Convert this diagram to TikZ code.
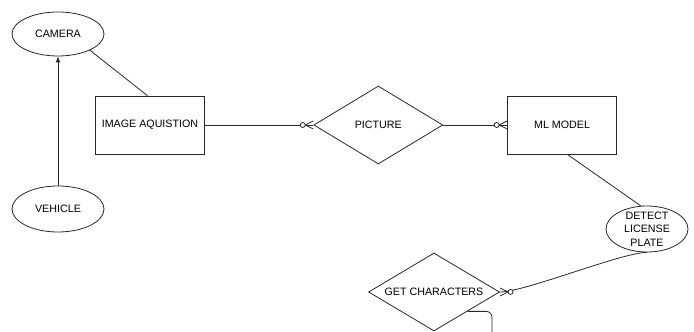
\documentclass[tikz,border=0pt]{standalone}
\usepackage{fontspec}
\setmainfont{Liberation Sans}
\usepackage{xcolor}
\usetikzlibrary{shapes,arrows.meta,positioning,decorations.markings,calc}
\definecolor{linegray}{RGB}{40,40,40}

\begin{document}
\begin{tikzpicture}[x=1pt, y=1pt, line width=0.8pt, font=\fontsize{10.7}{13.3}\selectfont,
		entita/.style={rectangle, draw=linegray, minimum width=109pt, minimum height=58pt},
		attributo/.style={ellipse, draw=linegray, inner sep=1pt},
		relazione/.style={diamond, draw=linegray, aspect=1.65, inner sep=1pt},
		zeromolti/.style={postaction={decorate}, decoration={markings, mark=at position 0.999 with {
				\draw[linegray, fill=white] (-10.5,0) circle (2.5);
				\draw[linegray] (-8,0) -- (0,4) (-8,0) -- (0,-4);}}}]
				\useasboundingbox (0,0) rectangle (694,332);
				
				% Acquisizione
				\node[attributo, minimum width=92pt, minimum height=44pt] (camera) at (58,298) {CAMERA};
				\node[attributo, minimum width=92pt, minimum height=46pt] (veicolo) at (58,123) {VEHICLE};
				\node[entita] (img) at (150,207) {IMAGE AQUISTION};
				\draw[linegray, -{Latex[length=6pt, width=5pt]}] (veicolo) -- (camera);
				\draw[linegray] (camera.-27) -- (img.95);
				
				% Riconoscimento
				\node[relazione, minimum width=129pt, minimum height=78pt, right=108.5pt of img] (pic) {PICTURE};
				\node[entita, right=64pt of pic] (ml) {ML MODEL};
				\node[attributo, minimum width=82pt, minimum height=46pt, inner ysep=-2pt, align=center] (targa) at (647,103) {DETECT\\LICENSE\\PLATE};
				\draw[linegray, zeromolti] (img) -- (pic);
				\draw[linegray, zeromolti] (pic) -- (ml);
				\draw[linegray] (ml.-80) -- (targa.105);
				
				% Caratteri
				\node[relazione, minimum width=131pt, minimum height=78pt] (car) at (434,40) {GET CHARACTERS};
				\coordinate (fuori) at (492,-6);
				\draw[linegray, zeromolti] (targa.south) .. controls +(-25,0) and +(25,0) .. (car.east);
				\draw[linegray, rounded corners=6pt] (car.-30) -| (fuori);
			\end{tikzpicture}
\end{document}
